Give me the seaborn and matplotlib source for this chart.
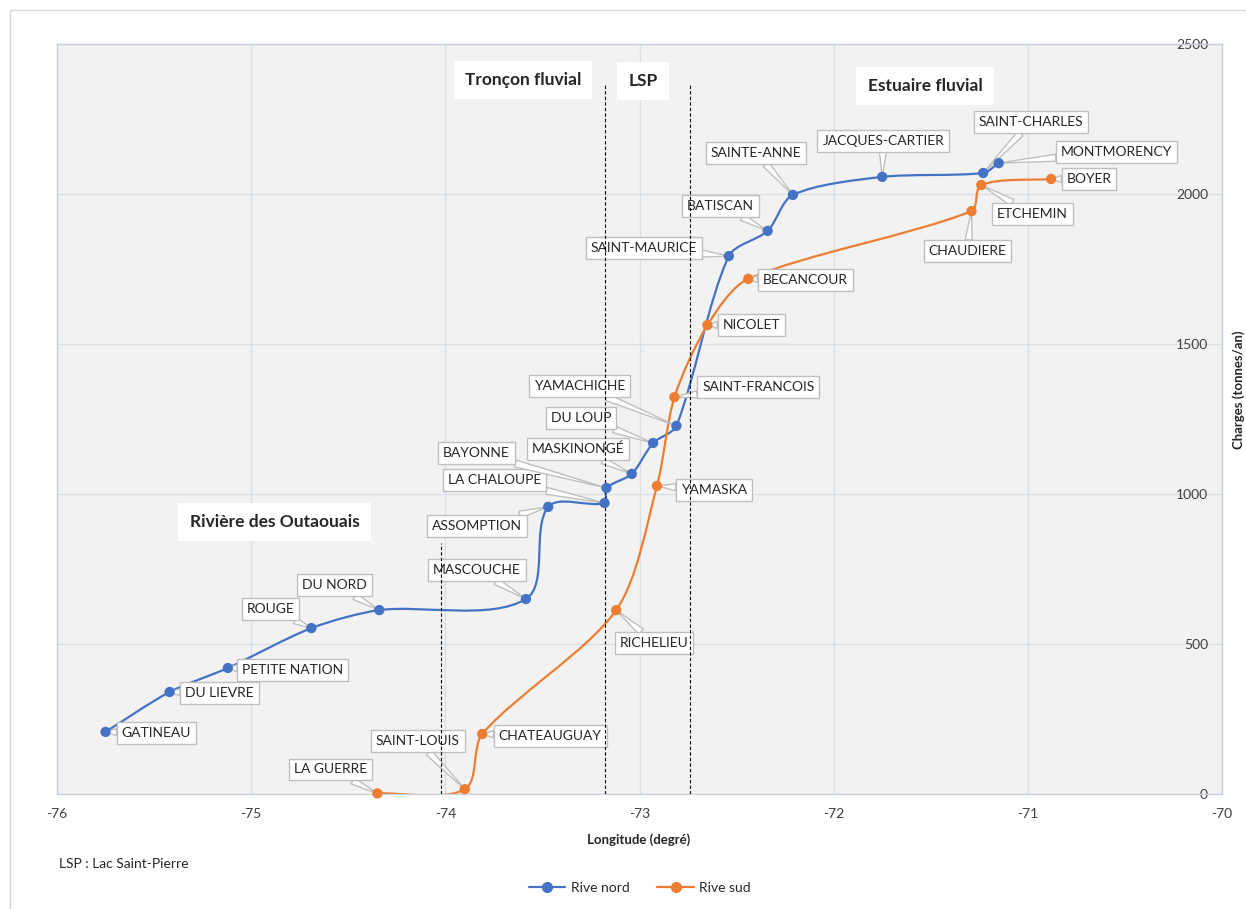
import numpy as np
import pandas as pd
import matplotlib
matplotlib.use("Agg")
import matplotlib.pyplot as plt
import seaborn as sns
from matplotlib.path import Path
from matplotlib.patches import PathPatch, Rectangle
from matplotlib.lines import Line2D

# Rive nord (north shore tributaries)
nord_names = ['GATINEAU', 'DU LIEVRE', 'PETITE NATION', 'ROUGE', 'DU NORD', 'MASCOUCHE',
              'ASSOMPTION', 'LA CHALOUPE', 'BAYONNE', 'MASKINONGÉ', 'DU LOUP', 'YAMACHICHE',
              'SAINT-MAURICE', 'BATISCAN', 'SAINTE-ANNE', 'JACQUES-CARTIER', 'SAINT-CHARLES',
              'MONTMORENCY']
nord_lon = [-75.75, -75.42, -75.12, -74.69, -74.34, -73.585,
            -73.47, -73.18, -73.17, -73.04, -72.93, -72.81,
            -72.54, -72.34, -72.21, -71.75, -71.23, -71.15]
nord_load = [207, 340, 420, 553, 613, 650,
             957, 970, 1020, 1067, 1170, 1227,
             1793, 1877, 1997, 2057, 2070, 2103]

# Rive sud (south shore tributaries)
sud_names = ['LA GUERRE', 'SAINT-LOUIS', 'CHATEAUGUAY', 'RICHELIEU', 'YAMASKA',
             'SAINT-FRANCOIS', 'NICOLET', 'BECANCOUR', 'CHAUDIERE', 'ETCHEMIN', 'BOYER']
sud_lon = [-74.35, -73.90, -73.81, -73.12, -72.91, -72.82, -72.65, -72.44, -71.29, -71.24, -70.88]
sud_load = [2, 16, 200, 613, 1027, 1323, 1563, 1717, 1943, 2030, 2050]

series_names = ['Rive nord', 'Rive sud']
colors = {'Rive nord': '#4472C4', 'Rive sud': '#ED7D31'}

# callout offsets in pixels (label centre relative to the point)
offsets = {
    'GATINEAU': (51, -1), 'DU LIEVRE': (50, -1), 'PETITE NATION': (65, -2),
    'ROUGE': (-41, 19), 'DU NORD': (-45, 25), 'MASCOUCHE': (-49, 29),
    'ASSOMPTION': (-71, -19), 'LA CHALOUPE': (-110, 23), 'BAYONNE': (-130, 35),
    'MASKINONGÉ': (-54, 25), 'DU LOUP': (-72, 25), 'YAMACHICHE': (-97, 40),
    'SAINT-MAURICE': (-85, 8), 'BATISCAN': (-47, 25), 'SAINTE-ANNE': (-37, 42),
    'JACQUES-CARTIER': (1, 36), 'SAINT-CHARLES': (48, 51), 'MONTMORENCY': (118, 11),
    'LA GUERRE': (-47, 24), 'SAINT-LOUIS': (-47, 48), 'CHATEAUGUAY': (68, -2),
    'RICHELIEU': (38, -33), 'YAMASKA': (57, -4), 'SAINT-FRANCOIS': (84, 10),
    'NICOLET': (44, 0), 'BECANCOUR': (57, -1), 'CHAUDIERE': (-4, -40),
    'ETCHEMIN': (51, -29), 'BOYER': (38, 0),
}

df = pd.concat([
    pd.DataFrame({'nom': nord_names, 'lon': nord_lon, 'charge': nord_load, 'rive': 'Rive nord'}),
    pd.DataFrame({'nom': sud_names, 'lon': sud_lon, 'charge': sud_load, 'rive': 'Rive sud'}),
], ignore_index=True)

sns.set_style("white")
plt.rcParams['font.family'] = ['Lato', 'DejaVu Sans']
plt.rcParams['axes.unicode_minus'] = False


# smoothed line like excel: bezier through the points, tangents computed in pixel space
def smooth_path(ax, xs, ys, k=0.28):
    pts = ax.transData.transform(np.column_stack([xs, ys]).astype(float))
    n = len(pts)
    verts = [pts[0]]
    codes = [Path.MOVETO]

    def unit(v):
        nv = np.hypot(*v)
        return v / nv if nv > 0 else v

    for i in range(n - 1):
        p0 = pts[max(i - 1, 0)]
        p1 = pts[i]
        p2 = pts[i + 1]
        p3 = pts[min(i + 2, n - 1)]
        seg = np.hypot(*(p2 - p1))
        c1 = p1 + unit(p2 - p0) * seg * k
        c2 = p2 - unit(p3 - p1) * seg * k
        verts += [c1, c2, p2]
        codes += [Path.CURVE4] * 3
    verts = ax.transData.inverted().transform(np.array(verts))
    return Path(verts, codes)


fig = plt.figure(figsize=(12.46, 9.09), dpi=100)
fig.patches.append(Rectangle((10 / 1246, -0.5), 2, 1.5 - 10 / 909, transform=fig.transFigure,
                             fill=False, ec='#d9d9d9', lw=1))
ax = fig.add_axes([57 / 1246, 115 / 909, 1165 / 1246, 750 / 909])
ax.set_facecolor('#F2F2F2')
ax.set_xlim(-76, -70)
ax.set_ylim(0, 2500)

for rive in series_names:
    sub = df[df['rive'] == rive]
    ax.add_patch(PathPatch(smooth_path(ax, sub['lon'], sub['charge']), fill=False,
                           ec=colors[rive], lw=1.6, zorder=2))

sns.scatterplot(data=df, x='lon', y='charge', hue='rive', palette=colors, s=55,
                edgecolor='none', legend=False, ax=ax, zorder=6, clip_on=False)

for _, r in df.iterrows():
    dx, dy = offsets[r['nom']]
    ax.annotate(r['nom'], xy=(r['lon'], r['charge']), xytext=(dx, dy),
                textcoords='offset pixels', ha='center', va='center', fontsize=10,
                color='#262626', zorder=4,
                bbox=dict(boxstyle='square,pad=0.35', fc='white', ec='#bfbfbf', lw=1),
                arrowprops=dict(arrowstyle='wedge,tail_width=0.5,shrink_factor=0.5',
                                fc='white', ec='#bfbfbf', lw=1, shrinkA=0, shrinkB=0))

# zone limits
ax.plot([-74.02, -74.02], [0, 837], ls=(0, (3, 2)), color='black', lw=0.8, zorder=5)
ax.plot([-73.18, -73.18], [0, 2363], ls=(0, (3, 2)), color='black', lw=0.8, zorder=5)
ax.plot([-72.74, -72.74], [0, 2363], ls=(0, (3, 2)), color='black', lw=0.8, zorder=5)

zone_box = dict(boxstyle='square,pad=0.65', fc='white', ec='none')
ax.text(-73.60, 2380, 'Tronçon fluvial', ha='center', va='center', fontsize=12.5,
        weight='bold', bbox=zone_box, zorder=4)
ax.text(-72.98, 2377, 'LSP', ha='center', va='center', fontsize=12.5,
        weight='bold', bbox=zone_box, zorder=4)
ax.text(-71.53, 2360, 'Estuaire fluvial', ha='center', va='center', fontsize=12.5,
        weight='bold', bbox=zone_box, zorder=4)
ax.text(-74.88, 907, 'Rivière des Outaouais', ha='center', va='center', fontsize=12.5,
        weight='bold', bbox=zone_box, zorder=4)

ax.set_xticks(np.arange(-76, -69, 1))
ax.set_yticks(np.arange(0, 2501, 500))
ax.grid(True, color='#d9dfe7', lw=1)
ax.set_axisbelow(True)
for s in ax.spines.values():
    s.set_color('#c9d1dc')
    s.set_linewidth(1)
ax.yaxis.tick_right()
ax.tick_params(axis='x', length=0, pad=10, labelsize=10, labelcolor='#404040')
ax.tick_params(axis='y', length=0, pad=-10, labelsize=10, labelcolor='#404040')
for lbl in ax.get_yticklabels():
    lbl.set_ha('right')
ax.set_xlabel('')
ax.set_ylabel('')

fig.text(639 / 1246, 1 - 840 / 909, 'Longitude (degré)', ha='center', va='center',
         fontsize=9.5, weight='bold')
fig.text(1239 / 1246, 1 - 390 / 909, 'Charges (tonnes/an)', ha='center', va='center',
         rotation=90, fontsize=9.5, weight='bold')
fig.text(59 / 1246, 1 - 864 / 909, 'LSP : Lac Saint-Pierre', ha='left', va='center',
         fontsize=10, color='#262626')

handles = [Line2D([], [], color=colors[n], marker='o', markersize=7, lw=1.6) for n in series_names]
fig.legend(handles, series_names, loc='center', bbox_to_anchor=(640 / 1246, 1 - 888 / 909),
           ncol=2, frameon=False, fontsize=10, handlelength=2.6, columnspacing=2.0,
           handletextpad=0.4)

fig.savefig('out.png', dpi=100)
